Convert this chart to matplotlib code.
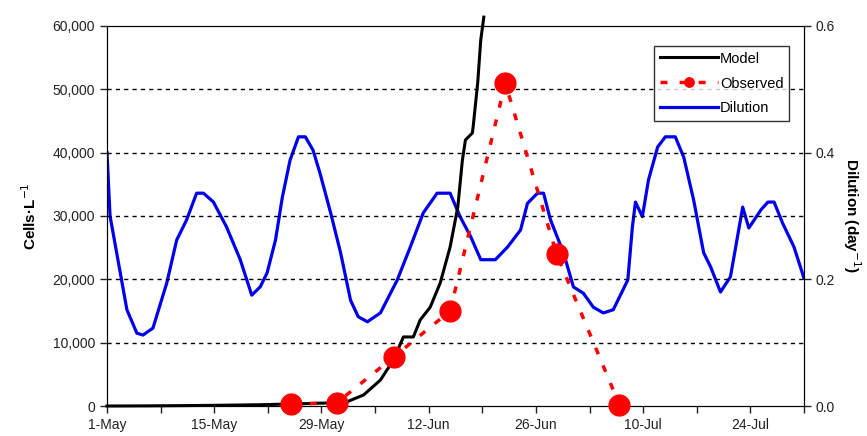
import matplotlib.pyplot as plt
import numpy as np

plt.rcParams['font.family'] = ['Liberation Sans', 'DejaVu Sans']

# days since 1-May
tick_days = [0, 14, 28, 42, 56, 70, 84]
tick_labels = ['1-May', '15-May', '29-May', '12-Jun', '26-Jun', '10-Jul', '24-Jul']

model_day = [0, 5, 10, 15, 20, 25, 28, 30, 31.4, 33.5, 35.7, 37.4, 38.7, 40, 40.9,
             42.2, 43.5, 44.8, 45.8, 46.4, 46.8, 47.7, 47.8, 48.4, 48.8, 49.2]
model_cells = [0, 20, 60, 120, 200, 350, 450, 500, 700, 1740, 4100, 7260, 10900, 10900, 13600,
               15600, 19400, 25100, 31400, 38800, 42000, 43100, 44000, 51000, 57800, 61400]

obs_day = [24, 30, 37.5, 44.8, 52, 58.7, 66.9]
obs_cells = [300, 500, 7800, 15000, 51000, 24000, 200]

dil_day = [0, 0.4, 2.6, 3.9, 4.7, 6, 7.8, 9.1, 10.4, 11.7, 12.6, 13.9, 15.6, 17.4, 18.9,
           20, 20.9, 22, 22.9, 23.9, 25, 25.9, 26.9, 27.8, 29.2, 30.5, 31.8, 32.8, 34,
           35.7, 37.9, 39.6, 41.3, 43.1, 44.8, 46.1, 47.5, 48.8, 50.7, 52.3, 54, 54.9,
           56.2, 57, 57.9, 59.6, 60.9, 62.2, 63.5, 64.8, 66.1, 68, 68.6, 69, 69.9,
           70.7, 71.9, 72.9, 74.2, 75.3, 76.6, 77.9, 78.8, 80.1, 81.4, 83, 83.8, 85.4,
           86.3, 87.1, 88.2, 89.7, 91]
dil_rate = [0.40, 0.30, 0.152, 0.115, 0.112, 0.123, 0.194, 0.262, 0.294, 0.336, 0.336, 0.322,
            0.283, 0.231, 0.175, 0.188, 0.21, 0.262, 0.33, 0.388, 0.425, 0.425, 0.404, 0.368,
            0.305, 0.242, 0.167, 0.141, 0.133, 0.147, 0.199, 0.251, 0.305, 0.336, 0.336,
            0.299, 0.267, 0.231, 0.231, 0.251, 0.278, 0.32, 0.336, 0.336, 0.294, 0.242,
            0.188, 0.178, 0.156, 0.147, 0.152, 0.199, 0.283, 0.322, 0.299, 0.357, 0.409,
            0.425, 0.425, 0.393, 0.325, 0.242, 0.22, 0.18, 0.204, 0.314, 0.281, 0.31,
            0.322, 0.322, 0.289, 0.251, 0.202]

fig = plt.figure(figsize=(8.67, 4.36), dpi=100)
ax = fig.add_axes([0.1234, 0.0688, 0.8039, 0.8716])
ax2 = ax.twinx()

ax.set_xlim(0, 91)
ax.set_ylim(0, 60000)
ax2.set_ylim(0, 0.6)

for y in range(10000, 60000, 10000):
    ax.axhline(y, color='black', lw=1, ls=(0, (3, 3)), zorder=0)

l_dil, = ax2.plot(dil_day, dil_rate, color='#0000ee', lw=2.3, label='Dilution')
l_obs, = ax.plot(obs_day, obs_cells, color='red', lw=2.5, ls=(0, (2, 3.5)),
                 marker='o', ms=15, mec='red', mfc='red', label='Observed', clip_on=False, zorder=5)
l_mod, = ax.plot(model_day, model_cells, color='black', lw=2.2, label='Model', clip_on=False, zorder=4)
ax.set_zorder(ax2.get_zorder() + 1)
ax.patch.set_visible(False)

ax.set_xticks(tick_days)
ax.set_xticklabels(tick_labels)
ax.set_xticks([7, 21, 35, 49, 63, 77, 91], minor=True)
ax.set_yticks(range(0, 60001, 10000))
ax.set_yticklabels([f'{v:,}' for v in range(0, 60001, 10000)])
ax2.set_yticks([0, 0.2, 0.4, 0.6])
ax2.set_yticklabels(['0.0', '0.2', '0.4', '0.6'])

for a in (ax, ax2):
    a.tick_params(axis='both', which='both', direction='out', length=5, width=1,
                  labelsize=10, colors='#222222')
ax.tick_params(axis='x', which='minor', length=5)

ax.set_ylabel('Cells·L$^{-1}$', fontsize=11, fontweight='bold', labelpad=10)
ax2.set_ylabel('Dilution (day$^{-1}$)', fontsize=11, fontweight='bold', rotation=270, labelpad=20)

leg = ax.legend([l_mod, l_obs, l_dil], ['Model', 'Observed', 'Dilution'],
                loc='upper right', bbox_to_anchor=(0.979, 0.948), fontsize=10.5,
                frameon=True, fancybox=False, edgecolor='black', handlelength=4.0,
                handletextpad=0.1, borderpad=0.4, labelspacing=0.75, markerscale=0.45,
                borderaxespad=0)
leg.get_frame().set_linewidth(1)

fig.savefig('out.png', dpi=100)
